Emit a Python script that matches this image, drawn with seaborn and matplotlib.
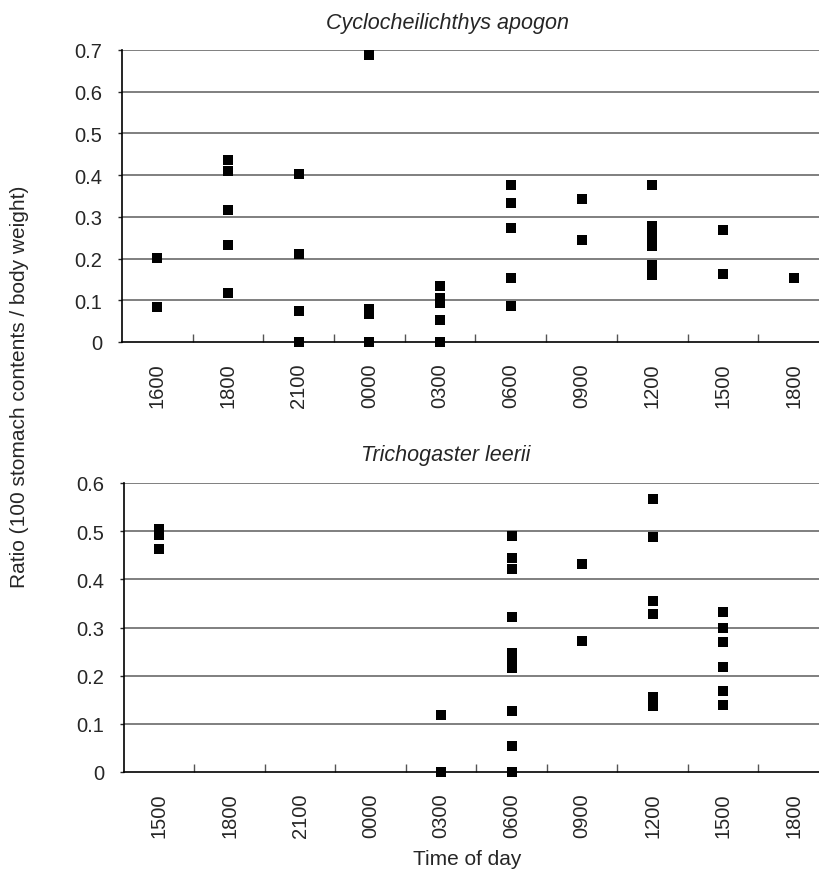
import numpy as np
import pandas as pd
import matplotlib
matplotlib.use("Agg")
import matplotlib.pyplot as plt
import seaborn as sns

# one list of ratios per sampling time
apogon_times = ["1600", "1800", "2100", "0000", "0300", "0600", "0900", "1200", "1500", "1800"]
apogon_values = [
    [0.202, 0.085],
    [0.437, 0.410, 0.316, 0.232, 0.118],
    [0.402, 0.212, 0.075, 0.0],
    [0.689, 0.078, 0.066, 0.0],
    [0.134, 0.105, 0.094, 0.053, 0.0],
    [0.376, 0.333, 0.274, 0.154, 0.086],
    [0.343, 0.245],
    [0.376, 0.279, 0.262, 0.245, 0.230, 0.185, 0.160],
    [0.268, 0.163],
    [0.154],
]

leerii_times = ["1500", "1800", "2100", "0000", "0300", "0600", "0900", "1200", "1500", "1800"]
leerii_values = [
    [0.504, 0.493, 0.463],
    [],
    [],
    [],
    [0.118, 0.0, 0.0],
    [0.491, 0.444, 0.421, 0.321, 0.248, 0.231, 0.215, 0.127, 0.053, 0.0],
    [0.432, 0.271],
    [0.567, 0.488, 0.355, 0.328, 0.155, 0.136],
    [0.333, 0.299, 0.269, 0.217, 0.168, 0.140],
    [],
]


def to_frame(values):
    rows = [(i, v) for i, vals in enumerate(values) for v in vals]
    return pd.DataFrame(rows, columns=["slot", "ratio"])


sns.set_style("white")
plt.rcParams["font.family"] = ["Liberation Sans", "DejaVu Sans"]

fig = plt.figure(figsize=(8.2, 8.7), dpi=100)
W, H = 820, 870

panels = [
    # (left, right, top, bottom) in pixels, data, labels, ymax, title
    ((122, 829, 51, 343), apogon_values, apogon_times, 0.7,
     "Cyclocheilichthys apogon", (448, 24)),
    ((124, 829, 484, 773), leerii_values, leerii_times, 0.6,
     "Trichogaster leerii", (446, 456)),
]

for (l, r, t, b), vals, labels, ymax, title, (tx, ty) in panels:
    ax = fig.add_axes([l / W, 1 - b / H, (r - l) / W, (b - t) / H])
    df = to_frame(vals)
    sns.scatterplot(data=df, x="slot", y="ratio", marker="s", s=54,
                    color="black", linewidth=0, ax=ax, clip_on=False, zorder=5)
    ax.set_xlim(-0.5, 9.5)
    ax.set_ylim(0, ymax)
    yt = np.round(np.arange(0, ymax + 0.001, 0.1), 1)
    ax.set_yticks(yt)
    ax.set_yticklabels(["0"] + [f"{v:.1f}" for v in yt[1:]])
    ax.set_xticks(range(10))
    ax.set_xticklabels(labels, rotation=90)
    ax.set_xticks(np.arange(0.5, 9.5, 1.0), minor=True)
    ax.tick_params(axis="x", which="major", length=0, pad=14.5, labelsize=14.5)
    ax.tick_params(axis="x", which="minor", direction="in", length=5.5,
                   width=1, color="#555555", bottom=True)
    ax.tick_params(axis="y", direction="out", length=3, width=1, pad=11,
                   labelsize=14.5, left=True)
    for v in yt[1:]:
        ax.axhline(v, color="#6a6a6a", lw=1.2, zorder=1)
    for side in ["top", "right"]:
        ax.spines[side].set_visible(False)
    for side in ["left", "bottom"]:
        ax.spines[side].set_color("black")
        ax.spines[side].set_linewidth(1.2)
    ax.set_xlabel("")
    ax.set_ylabel("")
    fig.text(tx / W, 1 - ty / H, title, style="italic", fontsize=15.5,
             ha="center", va="center")

fig.text(20 / W, 1 - 387 / H, "Ratio (100 stomach contents / body weight)",
         rotation=90, fontsize=15, ha="center", va="center")
fig.text(467 / W, 1 - 860 / H, "Time of day", fontsize=15,
         ha="center", va="center")

fig.savefig("out.png", dpi=100)
